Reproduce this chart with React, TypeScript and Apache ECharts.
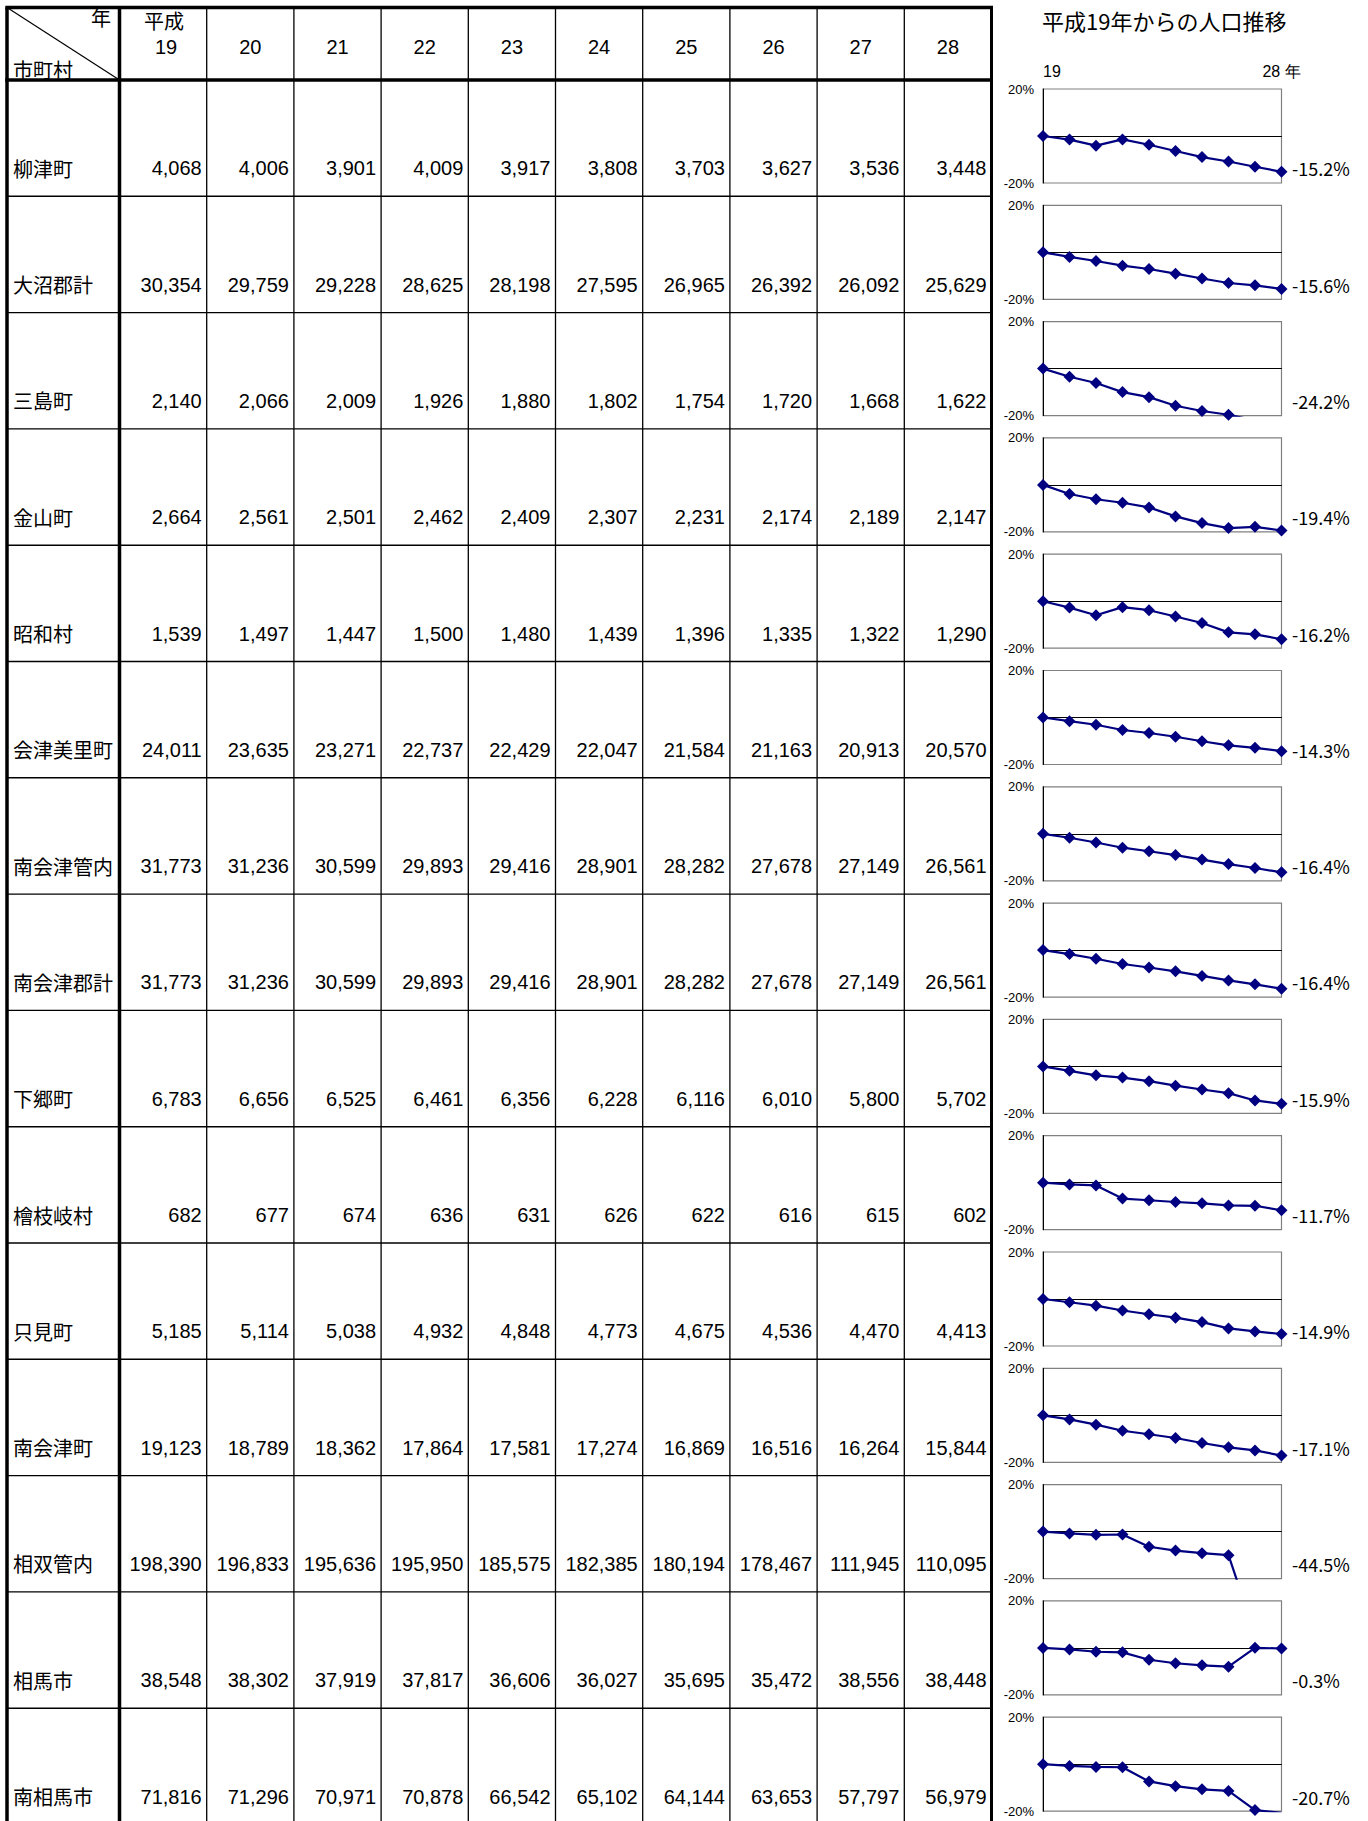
import React, { useEffect, useRef } from 'react';
import * as echarts from 'echarts';

// ---------- data ----------
const years = ['19', '20', '21', '22', '23', '24', '25', '26', '27', '28'];
const eraLabel = '平成';
const yearUnit = '年';
const rowHeaderLabel = '市町村';
const chartTitle = '平成19年からの人口推移';

const municipalities = [
  '柳津町', '大沼郡計', '三島町', '金山町', '昭和村', '会津美里町', '南会津管内', '南会津郡計',
  '下郷町', '檜枝岐村', '只見町', '南会津町', '相双管内', '相馬市', '南相馬市',
];

const yanaizu = [4068, 4006, 3901, 4009, 3917, 3808, 3703, 3627, 3536, 3448];
const onumaGun = [30354, 29759, 29228, 28625, 28198, 27595, 26965, 26392, 26092, 25629];
const mishima = [2140, 2066, 2009, 1926, 1880, 1802, 1754, 1720, 1668, 1622];
const kaneyama = [2664, 2561, 2501, 2462, 2409, 2307, 2231, 2174, 2189, 2147];
const showa = [1539, 1497, 1447, 1500, 1480, 1439, 1396, 1335, 1322, 1290];
const aizumisato = [24011, 23635, 23271, 22737, 22429, 22047, 21584, 21163, 20913, 20570];
const minamiaizuKannai = [31773, 31236, 30599, 29893, 29416, 28901, 28282, 27678, 27149, 26561];
const minamiaizuGun = [31773, 31236, 30599, 29893, 29416, 28901, 28282, 27678, 27149, 26561];
const shimogo = [6783, 6656, 6525, 6461, 6356, 6228, 6116, 6010, 5800, 5702];
const hinoemata = [682, 677, 674, 636, 631, 626, 622, 616, 615, 602];
const tadami = [5185, 5114, 5038, 4932, 4848, 4773, 4675, 4536, 4470, 4413];
const minamiaizu = [19123, 18789, 18362, 17864, 17581, 17274, 16869, 16516, 16264, 15844];
const sousouKannai = [198390, 196833, 195636, 195950, 185575, 182385, 180194, 178467, 111945, 110095];
const soma = [38548, 38302, 37919, 37817, 36606, 36027, 35695, 35472, 38556, 38448];
const minamisoma = [71816, 71296, 70971, 70878, 66542, 65102, 64144, 63653, 57797, 56979];

const populations = [
  yanaizu, onumaGun, mishima, kaneyama, showa, aizumisato, minamiaizuKannai, minamiaizuGun,
  shimogo, hinoemata, tadami, minamiaizu, sousouKannai, soma, minamisoma,
];

// ---------- layout ----------
const W = 1368;
const H = 1821;
const TABLE_TOP = 7.5;
const HEAD_BOTTOM = 80;
const ROW_H = 116.3;
const TABLE_LEFT = 7;
const NAME_RIGHT = 119.5;
const COL_W = 87.2;
const TABLE_RIGHT = NAME_RIGHT + COL_W * years.length;
const CH_LEFT = 1043;
const CH_RIGHT = 1281.5;
const CH_TOP0 = 89;
const CH_H = 94;

const NUM_FONT = '"Liberation Sans", Arial, sans-serif';
const JP_FONT = '"Noto Sans CJK JP", "Noto Sans", sans-serif';

function fmt(n: number) {
  return n.toLocaleString('en-US');
}

function txt(text: string, x: number, y: number, font: string, align = 'left', vAlign = 'middle', fill = '#000') {
  return {
    type: 'text',
    silent: true,
    style: {
      text, x, y, font, fill,
      align, verticalAlign: vAlign,
      textAlign: align, textVerticalAlign: vAlign,
    },
  };
}

function ln(x1: number, y1: number, x2: number, y2: number, w: number, color = '#000') {
  return {
    type: 'line',
    silent: true,
    shape: { x1, y1, x2, y2 },
    style: { stroke: color, lineWidth: w },
  };
}

function buildOption() {
  const pcts = populations.map((arr) => arr.map((v) => ((v / arr[0]) - 1) * 100));

  const grids: any[] = [];
  const xAxes: any[] = [];
  const yAxes: any[] = [];
  const series: any[] = [];

  municipalities.forEach((_, i) => {
    grids.push({
      left: CH_LEFT,
      width: CH_RIGHT - CH_LEFT,
      top: CH_TOP0 + ROW_H * i,
      height: CH_H,
      show: true,
      borderColor: '#808080',
      borderWidth: 1.2,
      backgroundColor: 'transparent',
      containLabel: false,
      outerBoundsMode: 'none',
    });
    xAxes.push({
      type: 'category',
      gridIndex: i,
      data: years,
      boundaryGap: false,
      position: 'bottom',
      axisLine: { show: true, onZero: true, lineStyle: { color: '#000', width: 1 } },
      axisTick: { show: false },
      axisLabel: { show: false },
      splitLine: { show: false },
    });
    yAxes.push({
      type: 'value',
      gridIndex: i,
      min: -20,
      max: 20,
      interval: 20,
      axisLine: { show: true, onZero: false, lineStyle: { color: '#000', width: 1 } },
      axisTick: { show: false },
      splitLine: { show: false },
      axisLabel: {
        formatter: (v: number) => (v === 0 ? '' : `${v}%`),
        fontSize: 13,
        fontFamily: NUM_FONT,
        color: '#000',
        margin: 9,
        padding: [5, 0, 0, 0],
      },
    });
    series.push({
      type: 'line',
      xAxisIndex: i,
      yAxisIndex: i,
      data: pcts[i],
      symbol: 'diamond',
      symbolSize: 12,
      clip: true,
      silent: true,
      lineStyle: { color: '#000080', width: 2.2 },
      itemStyle: { color: '#000080' },
    });
  });

  // year labels above the first mini chart
  xAxes.push({
    type: 'category',
    gridIndex: 0,
    data: years,
    boundaryGap: false,
    position: 'top',
    axisLine: { show: false, onZero: false },
    axisTick: { show: false },
    splitLine: { show: false },
    axisLabel: {
      interval: 0,
      fontSize: 16,
      fontFamily: NUM_FONT,
      color: '#000',
      margin: 10,
      alignMinLabel: 'left',
      formatter: (v: string, idx: number) =>
        idx === 0 ? v : idx === years.length - 1 ? `${v} ${yearUnit}` : '',
    },
  });

  // ---------- table graphics ----------
  const g: any[] = [];
  for (let k = 1; k < years.length; k++) {
    const x = NAME_RIGHT + COL_W * k;
    g.push(ln(x, TABLE_TOP, x, H, 1.3));
  }
  for (let r = 1; r < municipalities.length; r++) {
    const y = HEAD_BOTTOM + ROW_H * r;
    g.push(ln(TABLE_LEFT, y, TABLE_RIGHT, y, 1.4));
  }
  g.push(ln(TABLE_LEFT - 1.7, TABLE_TOP, TABLE_RIGHT + 1.5, TABLE_TOP, 3.5));
  g.push(ln(TABLE_LEFT - 1.7, HEAD_BOTTOM, TABLE_RIGHT + 1.5, HEAD_BOTTOM, 3.5));
  g.push(ln(TABLE_LEFT, TABLE_TOP, TABLE_LEFT, H, 3.5));
  g.push(ln(NAME_RIGHT, TABLE_TOP, NAME_RIGHT, H, 3.5));
  g.push(ln(TABLE_RIGHT, TABLE_TOP, TABLE_RIGHT, H, 3));
  g.push(ln(TABLE_LEFT, TABLE_TOP, NAME_RIGHT, HEAD_BOTTOM, 1.2));

  g.push(txt(yearUnit, 111, 17, `20px ${JP_FONT}`, 'right'));
  g.push(txt(rowHeaderLabel, 13, 69, `20px ${JP_FONT}`, 'left'));
  years.forEach((yl, j) => {
    const cx = NAME_RIGHT + COL_W * (j + 0.5);
    if (j === 0) {
      g.push(txt(eraLabel, cx + 1, 20, `20px ${JP_FONT}`, 'center'));
      g.push(txt(yl, cx + 3, 46.5, `20px ${NUM_FONT}`, 'center'));
    } else {
      g.push(txt(yl, cx, 46.5, `20px ${NUM_FONT}`, 'center'));
    }
  });

  municipalities.forEach((name, i) => {
    const yText = HEAD_BOTTOM + ROW_H * (i + 1) - 28;
    g.push(txt(name, 13, yText, `20px ${JP_FONT}`, 'left'));
    populations[i].forEach((v, j) => {
      const xr = NAME_RIGHT + COL_W * (j + 1) - 5;
      g.push(txt(fmt(v), xr, yText, `20px ${NUM_FONT}`, 'right'));
    });
    const last = pcts[i][pcts[i].length - 1];
    g.push(txt(`${last.toFixed(1)}%`, 1292, yText, `18px ${JP_FONT}`, 'left'));
  });

  g.push(txt(chartTitle, 1042, 20, `22px ${JP_FONT}`, 'left'));

  return {
    animation: false,
    backgroundColor: '#ffffff',
    grid: grids,
    xAxis: xAxes,
    yAxis: yAxes,
    series,
    graphic: { elements: g },
  };
}

export default function App() {
  const ref = useRef<HTMLDivElement>(null);
  useEffect(() => {
    if (!ref.current) return;
    const chart = echarts.init(ref.current, undefined, { renderer: 'svg' });
    chart.setOption(buildOption() as any);
    return () => chart.dispose();
  }, []);
  return (
    <div
      ref={ref}
      style={{ position: 'absolute', left: 0, top: 0, width: W, height: H, background: '#fff' }}
    />
  );
}
